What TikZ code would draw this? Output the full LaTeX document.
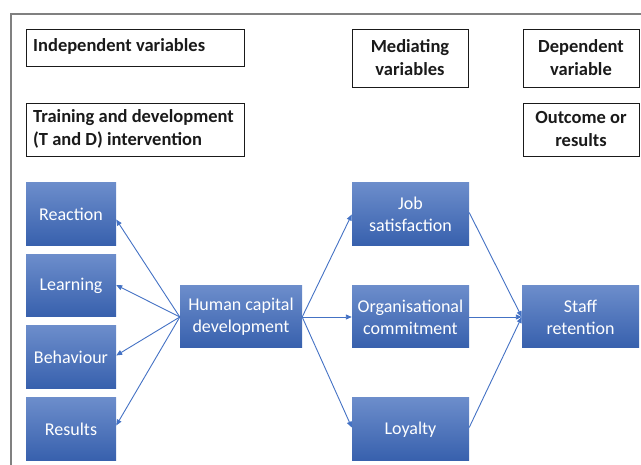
\documentclass[tikz,border=0pt]{standalone}
\usepackage{fontspec}
\setmainfont{Carlito}
\usetikzlibrary{arrows.meta,calc}
\definecolor{frame}{HTML}{808080}
\definecolor{boxtop}{HTML}{6C8DCB}
\definecolor{boxbot}{HTML}{3760AD}
\definecolor{link}{HTML}{4472C4}
\definecolor{ink}{HTML}{1A1A1A}
\begin{document}
\begin{tikzpicture}[x=1pt,y=-1pt,
  headfont/.style={font=\fontsize{18.5}{23}\selectfont\bfseries, text=ink},
  headbox/.style={draw=ink, line width=0.9pt, fill=white, inner sep=0pt,
    headfont, align=center},
  bluebox/.style={rectangle, inner sep=0pt, top color=boxtop, bottom color=boxbot,
    draw=none, text=white, align=center, font=\fontsize{18}{22}\selectfont},
  linkarrow/.style={draw=link, line width=0.9pt, -{Triangle[length=6pt,width=5pt]}}]
\useasboundingbox (0,0) rectangle (641,465);
% outer frame
\draw[frame, line width=1.2pt] (11,465) -- (11,14) -- (641,14);

% heading boxes
\node[headbox, minimum width=218pt, minimum height=37pt] (indep) at (135,47.5) {};
\node[headfont, anchor=west, inner sep=0pt] (indeptext) at (33,46.5) {Independent variables};
\node[headbox, minimum width=218pt, minimum height=53pt] (train) at (135,129.5) {};
\node[headfont, anchor=west, inner sep=0pt, align=left] (traintext) at (33,128.5) {Training and development\\(T and D) intervention};
\node[headbox, minimum width=116pt, minimum height=58pt] (med) at (410,58) {Mediating\\variables};
\node[headbox, minimum width=116pt, minimum height=58pt] (dep) at (581,58) {Dependent\\variable};
\node[headbox, minimum width=116pt, minimum height=53pt] (outc) at (581,129.5) {Outcome or\\results};

% blue boxes
\node[bluebox, minimum width=90pt, minimum height=63pt] (reaction) at (71,214.5) {Reaction};
\node[bluebox, minimum width=90pt, minimum height=62pt] (learning) at (71,286) {Learning};
\node[bluebox, minimum width=90pt, minimum height=63pt] (behaviour) at (71,357.5) {Behaviour};
\node[bluebox, minimum width=90pt, minimum height=63pt] (results) at (71,429.5) {Results};
\node[bluebox, minimum width=122pt, minimum height=62pt] (hcd) at (241,317) {Human capital\\development};
\node[bluebox, minimum width=117pt, minimum height=63pt] (job) at (410.5,214.5) {Job\\satisfaction};
\node[bluebox, minimum width=117pt, minimum height=62pt] (org) at (410.5,317) {Organisational\\commitment};
\node[bluebox, minimum width=117pt, minimum height=63pt] (loyal) at (410.5,429.5) {Loyalty};
\node[bluebox, minimum width=117pt, minimum height=62pt] (staff) at (580.5,317) {Staff\\retention};

% connectors
\draw[linkarrow] (hcd.west) -- ($(reaction.east)+(0,5)$);
\draw[linkarrow] (hcd.west) -- ($(learning.east)+(0,-1)$);
\draw[linkarrow] (hcd.west) -- ($(behaviour.east)+(0,-2)$);
\draw[linkarrow] (hcd.west) -- ($(results.east)+(0,-4)$);
\draw[linkarrow] (hcd.east) -- (job.west);
\draw[linkarrow] (hcd.east) -- (org.west);
\draw[linkarrow] (hcd.east) -- ($(loyal.west)+(0,-2)$);
\draw[linkarrow] ($(job.east)+(0,-2)$) -- (staff.west);
\draw[linkarrow] (org.east) -- (staff.west);
\draw[linkarrow] ($(loyal.east)+(0,-2)$) -- (staff.west);
\end{tikzpicture}
\end{document}
